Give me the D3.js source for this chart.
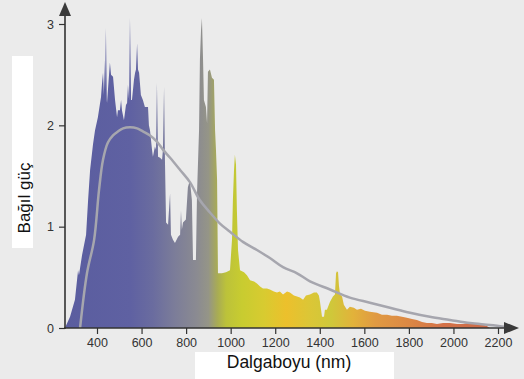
<!DOCTYPE html>
<html>
<head>
<meta charset="utf-8">
<script src="https://cdn.jsdelivr.net/npm/d3@7"></script>
<style>
  body { margin: 0; background: #ebebeb; }
  svg { display: block; }
  text { font-family: "Liberation Sans", Arial, sans-serif; }
</style>
</head>
<body>
<svg id="chart"></svg>
<script>
// measured spectrum (wavelength in nm, relative power)
const wavelengths = [256, 279, 301, 315, 319, 333, 351, 360, 369, 382, 391, 404, 418, 422, 427, 431, 434, 436, 440, 444,
  445, 454, 458, 463, 472, 481, 490, 494, 503, 508, 512, 521, 530, 535, 539, 544, 548, 553, 557, 566,
  571, 575, 580, 584, 589, 597, 606, 615, 629, 633, 638, 647, 651, 660, 665, 669, 674, 683, 692, 696,
  701, 705, 710, 719, 728, 732, 741, 750, 764, 773, 777, 781, 786, 799, 808, 817, 826, 831, 844, 849,
  858, 862, 867, 871, 876, 880, 889, 894, 898, 907, 916, 925, 930, 934, 939, 943, 961, 979, 997, 1006,
  1010, 1015, 1019, 1024, 1028, 1033, 1042, 1060, 1073, 1087, 1105, 1118, 1132, 1145, 1163, 1176, 1194, 1208, 1221, 1235,
  1253, 1266, 1284, 1298, 1311, 1325, 1338, 1356, 1374, 1387, 1396, 1401, 1410, 1419, 1423, 1432, 1446, 1459, 1468, 1473,
  1477, 1482, 1486, 1491, 1500, 1508, 1522, 1535, 1553, 1567, 1585, 1603, 1625, 1657, 1679, 1702, 1724, 1746, 1769, 1791,
  1814, 1836, 1859, 1881, 1903, 1926, 1953, 1984, 2016, 2043, 2065, 2083, 2110, 2128, 2150, 2164];
const power = [0, 0.11, 0.28, 0.57, 0.52, 0.72, 0.92, 1.26, 1.56, 1.81, 1.95, 2.08, 2.28, 2.40, 2.52, 2.30, 2.65, 2.35, 2.96, 2.25,
  2.22, 2.50, 2.62, 2.50, 2.48, 2.25, 2.08, 2.15, 2.15, 2.25, 2.15, 2.05, 2.20, 2.22, 2.40, 2.25, 3.06, 2.25, 2.25, 2.45,
  2.52, 2.55, 2.81, 2.55, 2.52, 2.30, 2.25, 2.18, 2.18, 2.00, 1.95, 1.76, 1.69, 1.79, 1.76, 2.42, 1.69, 1.68, 1.66, 1.76,
  2.38, 1.66, 1.04, 1.02, 1.33, 0.92, 0.87, 0.84, 0.90, 0.92, 1.16, 0.97, 1.04, 1.07, 1.39, 1.46, 1.26, 0.67, 0.67, 1.33,
  1.95, 2.65, 2.94, 3.06, 2.65, 2.25, 2.18, 2.02, 2.53, 2.55, 2.47, 2.45, 1.95, 1.76, 1.46, 0.54, 0.54, 0.55, 0.57, 0.87,
  1.26, 1.56, 1.71, 1.61, 1.16, 0.77, 0.57, 0.55, 0.52, 0.47, 0.46, 0.44, 0.41, 0.39, 0.39, 0.38, 0.36, 0.35, 0.36, 0.33,
  0.36, 0.35, 0.32, 0.31, 0.30, 0.28, 0.32, 0.33, 0.35, 0.35, 0.32, 0.26, 0.11, 0.11, 0.18, 0.18, 0.26, 0.31, 0.33, 0.54,
  0.56, 0.55, 0.42, 0.33, 0.31, 0.23, 0.18, 0.21, 0.20, 0.18, 0.19, 0.17, 0.16, 0.15, 0.13, 0.13, 0.12, 0.12, 0.11, 0.10,
  0.09, 0.08, 0.06, 0.05, 0.05, 0.04, 0.05, 0.05, 0.04, 0.04, 0.05, 0.04, 0.05, 0.04, 0.02, 0];

// smooth reference curve
const curveWavelengths = [324, 355, 387, 409, 427, 449, 472, 494, 517, 548, 580, 606, 638, 669, 696, 728, 773, 817, 862, 907,
  952, 997, 1055, 1118, 1176, 1235, 1298, 1356, 1446, 1535, 1625, 1715, 1805, 1894, 1984, 2074, 2164, 2240];
const curvePower = [0, 0.54, 0.87, 1.36, 1.66, 1.83, 1.90, 1.94, 1.97, 1.98, 1.97, 1.94, 1.90, 1.84, 1.76, 1.68, 1.56, 1.44, 1.26, 1.14,
  1.03, 0.95, 0.85, 0.77, 0.69, 0.60, 0.54, 0.46, 0.38, 0.30, 0.25, 0.20, 0.15, 0.11, 0.08, 0.05, 0.03, 0.01];

const xTicks = [400, 600, 800, 1000, 1200, 1400, 1600, 1800, 2000, 2200];
const yTicks = [0, 1, 2, 3];

// colour of the light at each wavelength
const colorStops = [
  [256, "#5a5d9f"], [550, "#5f61a2"], [650, "#6a6c9f"], [750, "#7c7d99"], [850, "#8b8b91"],
  [900, "#959587"], [940, "#a8ab55"], [980, "#bcc23a"], [1050, "#c8cc30"], [1150, "#d8cb30"],
  [1250, "#ecc02c"], [1350, "#dcc636"], [1450, "#cfc83a"], [1550, "#e2b23a"], [1650, "#e09a42"],
  [1800, "#dc8844"], [1950, "#d47248"], [2170, "#cc6a48"]
];

const width = 524, height = 379;

const x = d3.scaleLinear().domain([400, 2200]).range([97, 498]);
const y = d3.scaleLinear().domain([0, 3]).range([328, 24]);

const svg = d3.select("#chart")
  .attr("width", width)
  .attr("height", height);

svg.append("rect")
  .attr("width", width).attr("height", height)
  .attr("fill", "#ebebeb");

const defs = svg.append("defs");

const grad = defs.append("linearGradient")
  .attr("id", "spec")
  .attr("gradientUnits", "userSpaceOnUse")
  .attr("x1", x(256)).attr("x2", x(2170))
  .attr("y1", 0).attr("y2", 0);
grad.selectAll("stop")
  .data(colorStops)
  .join("stop")
  .attr("offset", d => (d[0] - 256) / (2170 - 256))
  .attr("stop-color", d => d[1]);

// label boxes
svg.append("rect").attr("x", 12).attr("y", 56).attr("width", 21).attr("height", 192).attr("fill", "#fff");
svg.append("rect").attr("x", 195).attr("y", 352).attr("width", 199).attr("height", 27).attr("fill", "#fff");

const spectrum = wavelengths.map((w, i) => [w, power[i]]);

const area = d3.area()
  .x(d => x(d[0]))
  .y0(y(0))
  .y1(d => y(d[1]));

svg.append("path")
  .datum(spectrum)
  .attr("d", area)
  .attr("fill", "url(#spec)");

const smooth = curveWavelengths.map((w, i) => [w, curvePower[i]]);

svg.append("path")
  .datum(smooth)
  .attr("d", d3.line().x(d => x(d[0])).y(d => y(d[1])).curve(d3.curveCatmullRom))
  .attr("fill", "none")
  .attr("stroke", "#a6a6ae")
  .attr("stroke-width", 2.5);

// axes
const axisColor = "#333";

const gx = svg.append("g")
  .attr("transform", `translate(0,${y(0)})`)
  .call(d3.axisBottom(x).tickValues(xTicks).tickSize(6).tickSizeOuter(0).tickPadding(4).tickFormat(d3.format("d")));
gx.select(".domain").remove();

const gy = svg.append("g")
  .attr("transform", "translate(65,0)")
  .call(d3.axisLeft(y).tickValues(yTicks).tickSize(6).tickSizeOuter(0).tickPadding(5).tickFormat(d3.format("d")));
gy.select(".domain").remove();

svg.selectAll(".tick line").attr("stroke", axisColor).attr("stroke-width", 1.2);
svg.selectAll(".tick text")
  .attr("fill", "#333")
  .style("font-size", "12.5px")
  .style("font-family", "'Liberation Sans', Arial, sans-serif");

svg.append("line")
  .attr("x1", 64).attr("x2", 508)
  .attr("y1", y(0)).attr("y2", y(0))
  .attr("stroke", axisColor).attr("stroke-width", 1.6);
svg.append("line")
  .attr("x1", 65).attr("x2", 65)
  .attr("y1", y(0) + 1).attr("y2", 12)
  .attr("stroke", axisColor).attr("stroke-width", 1.6);

svg.append("path")
  .attr("d", `M65,2 L71,16 L59,16 Z`)
  .attr("fill", "#3a3a3a");
svg.append("path")
  .attr("d", `M519,${y(0)} L504,${y(0) - 6} L504,${y(0) + 6} Z`)
  .attr("fill", "#3a3a3a");

// titles
svg.append("text")
  .attr("x", 289).attr("y", 368)
  .attr("text-anchor", "middle")
  .attr("fill", "#111")
  .style("font-size", "17.5px")
  .text("Dalgaboyu (nm)");

svg.append("text")
  .attr("transform", "translate(30,198) rotate(-90)")
  .attr("text-anchor", "middle")
  .attr("fill", "#111")
  .style("font-size", "17px")
  .text("Bağıl güç");
</script>
</body>
</html>
